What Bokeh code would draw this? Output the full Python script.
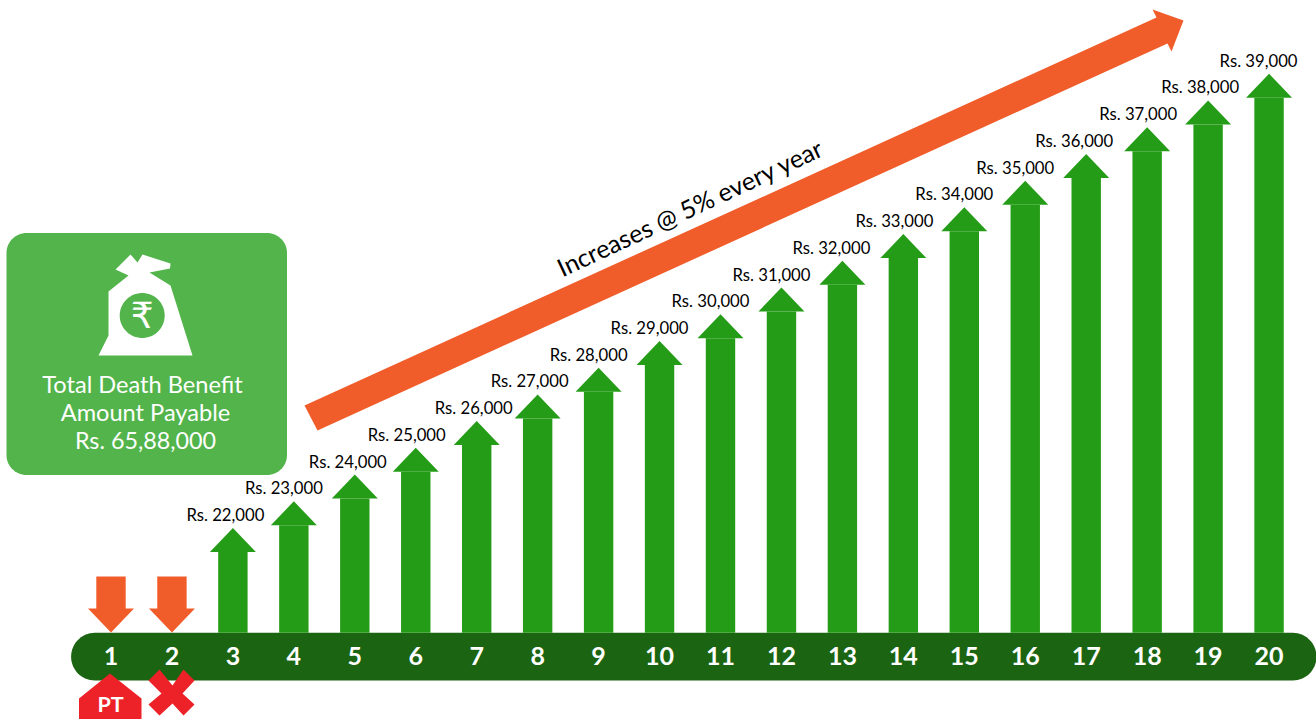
import numpy as np
from bokeh.plotting import figure
from bokeh.embed import file_html
from bokeh.resources import INLINE
from bokeh.core.properties import value
from bokeh.models import Range1d

years = list(range(1, 21))
paid_years = [3, 4, 5, 6, 7, 8, 9, 10, 11, 12, 13, 14, 15, 16, 17, 18, 19, 20]
premiums = [22000, 23000, 24000, 25000, 26000, 27000, 28000, 29000, 30000, 31000,
            32000, 33000, 34000, 35000, 36000, 37000, 38000, 39000]
labels = ["Rs. 22,000", "Rs. 23,000", "Rs. 24,000", "Rs. 25,000", "Rs. 26,000", "Rs. 27,000",
          "Rs. 28,000", "Rs. 29,000", "Rs. 30,000", "Rs. 31,000", "Rs. 32,000", "Rs. 33,000",
          "Rs. 34,000", "Rs. 35,000", "Rs. 36,000", "Rs. 37,000", "Rs. 38,000", "Rs. 39,000"]
label_dx = [-7.5, -10, -7, -9, -3, -8, -10, -10, -10, -10, -11, -9, -10, -10, -12, -9, -8, -10.5]
unpaid_years = [1, 2]

W, H = 1316, 719
X1, XSTEP = 110.5, 60.95
Y_TIP0, V0, YSCALE = 527.5, 22000.0, 26.72 / 1000.0

def x_of(px):
    return 1 + (np.asarray(px, dtype=float) - X1) / XSTEP

def y_of(py):
    return V0 + (Y_TIP0 - np.asarray(py, dtype=float)) / YSCALE

FONT = value("Lato")
GREEN, DARK, ORANGE, RED, BOX = "#259c17", "#1b6411", "#f15d2a", "#ed2228", "#52b44b"

p = figure(width=W, height=H, output_backend="svg", toolbar_location=None,
           x_range=Range1d(float(x_of(0)), float(x_of(W))),
           y_range=Range1d(float(y_of(H)), float(y_of(0))),
           min_border=0, outline_line_color=None)
p.grid.visible = False
p.xaxis.visible = False
p.yaxis.visible = False

def poly(pts, color):
    a = np.array(pts, dtype=float)
    p.patch(x_of(a[:, 0]), y_of(a[:, 1]), fill_color=color, line_color=None)

def round_rect(l, t, r, b, rad, color, n=16):
    pts = []
    for cx, cy, a0 in [(r - rad, t + rad, -90), (r - rad, b - rad, 0),
                       (l + rad, b - rad, 90), (l + rad, t + rad, 180)]:
        for a in np.radians(np.linspace(a0, a0 + 90, n)):
            pts.append((cx + rad * np.cos(a), cy + rad * np.sin(a)))
    poly(pts, color)

def ptext(px, py, s, size, color="#000000", style="normal", angle=0.0):
    p.text(x=[float(x_of(px))], y=[float(y_of(py))], text=[s], text_font=FONT,
           text_font_size=f"{size}px", text_color=color, text_font_style=style,
           text_align="center", text_baseline="middle", angle=angle)

BASE_PY = 632.3
HEAD_PX, HEAD_HALF, SHAFT_HALF = 24.0, 23.0, 14.7
base_v = float(y_of(BASE_PY))
shaft_dx = SHAFT_HALF / XSTEP
head_dx = HEAD_HALF / XSTEP
head_dv = HEAD_PX / YSCALE

# timeline band
round_rect(70.6, BASE_PY, 1316, 680, 23.8, DARK)

# rising premium arrows
p.vbar(x=paid_years, bottom=base_v, top=[v - head_dv for v in premiums], width=2 * shaft_dx,
       fill_color=GREEN, line_color=None)
p.patches([[x - head_dx, x, x + head_dx] for x in paid_years],
          [[v - head_dv, v, v - head_dv] for v in premiums],
          fill_color=GREEN, line_color=None)

# premium labels
p.text(x=[x + d / XSTEP for x, d in zip(paid_years, label_dx)],
       y=[v + 13 / YSCALE for v in premiums], text=labels, text_font=FONT,
       text_font_size="16.7px", text_color="#000000",
       text_align="center", text_baseline="middle")

# year numbers
p.text(x=years, y=[float(y_of(655))] * len(years), text=[str(y) for y in years],
       text_font=FONT, text_font_size="25px", text_font_style="bold", text_color="#ffffff",
       text_align="center", text_baseline="middle")

# orange down arrows on unpaid years
for y in unpaid_years:
    cx = X1 + (y - 1) * XSTEP
    poly([(cx - 14.7, 576), (cx + 14.7, 576), (cx + 14.7, 608), (cx + 23, 608), (cx, 632),
          (cx - 23, 608), (cx - 14.7, 608)], ORANGE)

# big rising arrow
poly([(304, 405), (1156, 17), (1152, 9), (1183, 20), (1171, 51), (1167, 43), (317, 430)], ORANGE)
ptext(689.5, 206.5, "Increases @ 5% every year", 25, angle=np.radians(25))

# PT house and cross
poly([(78.5, 719), (78.5, 698), (109.5, 673), (141, 698), (141, 719)], RED)
ptext(110, 703.5, "PT", 21.5, "#ffffff", "bold")
poly([(172, 685), (183, 669), (194, 680), (182, 693), (194, 704), (183, 715), (172, 703),
      (159, 715), (148, 704), (161, 693), (148, 680), (159, 669)], RED)

# benefit box
round_rect(6, 232.5, 286.5, 474.5, 20, BOX)
poly([(98, 355), (192, 355), (170, 285), (149, 272), (169.5, 268), (170, 263), (142, 254),
      (137, 262), (130, 254), (115, 269), (128, 275), (108, 291), (108, 335)], "#ffffff")
th = np.linspace(0, 2 * np.pi, 60)
poly(np.c_[141.7 + 22.5 * np.cos(th), 315 + 22.5 * np.sin(th)], BOX)
p.text(x=[float(x_of(141.7))], y=[float(y_of(314.5))], text=["₹"], text_font=value("DejaVu Sans"),
       text_font_size="36px", text_color="#ffffff", text_align="center", text_baseline="middle")
ptext(142, 383.5, "Total Death Benefit", 23.6, "#ffffff")
ptext(145, 411.5, "Amount Payable", 23.6, "#ffffff")
ptext(145, 439.5, "Rs. 65,88,000", 23.3, "#ffffff")

open("out.html", "w").write(file_html(p, INLINE))
